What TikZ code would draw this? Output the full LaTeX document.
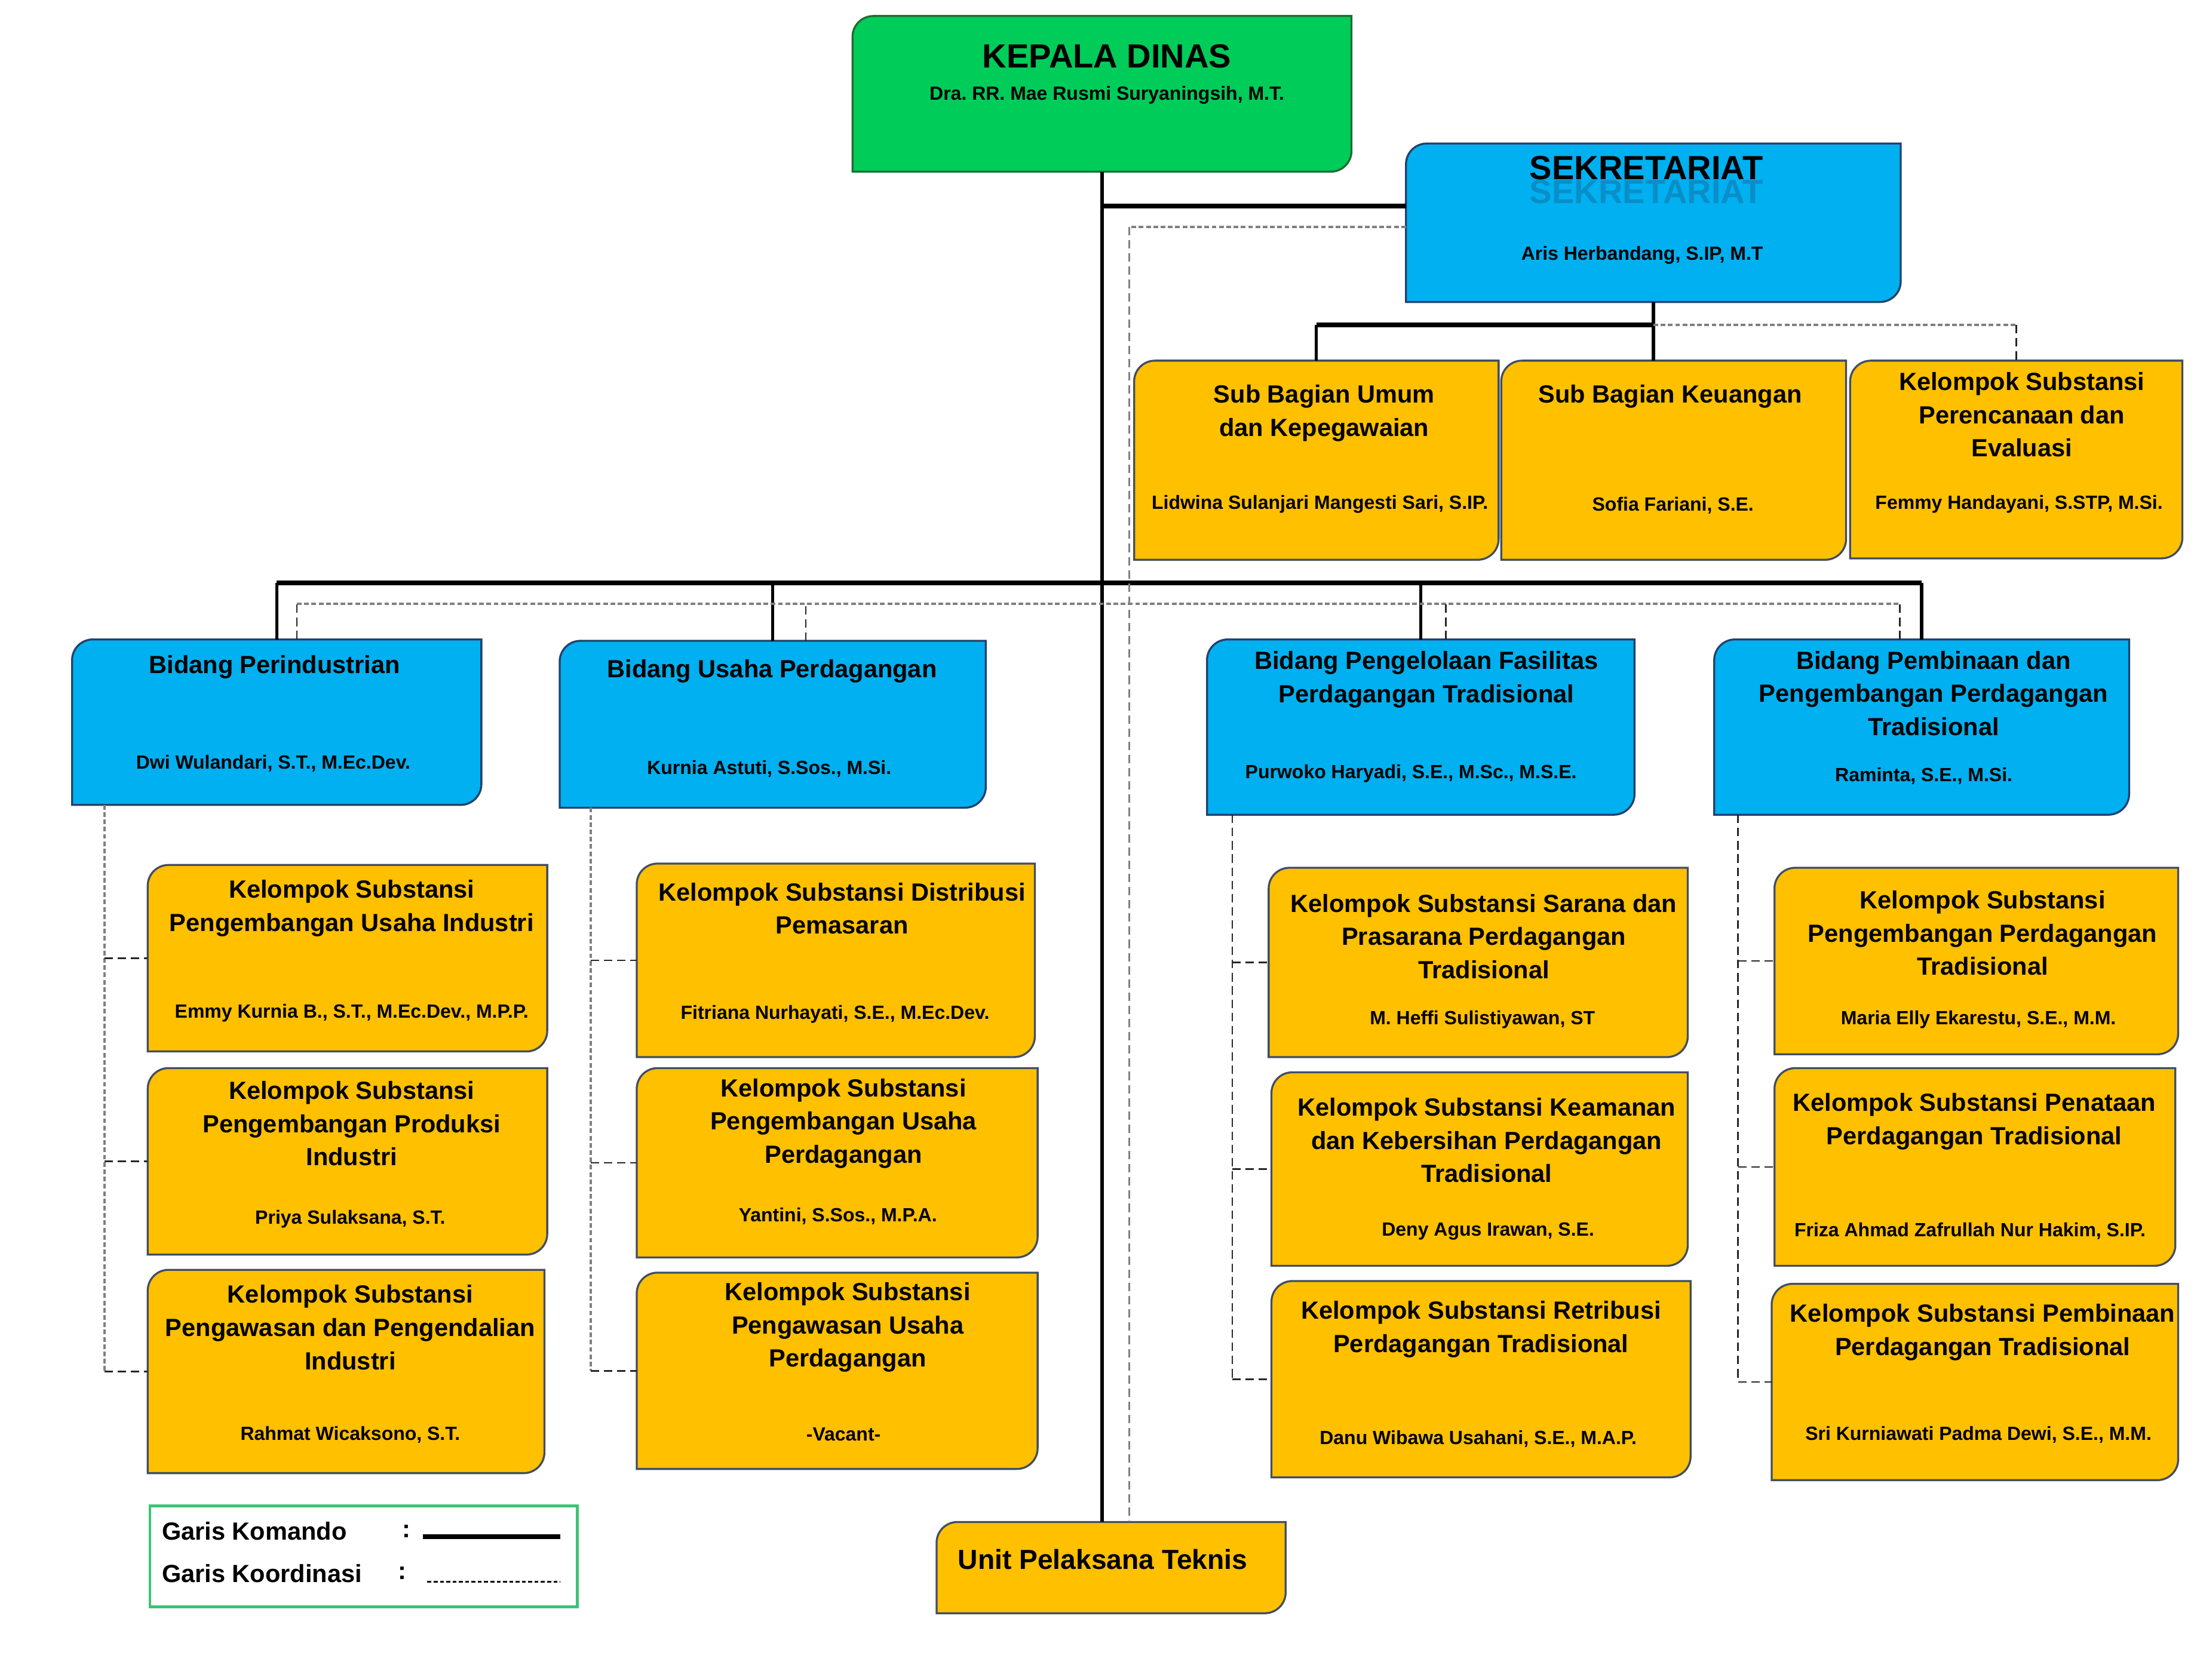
\documentclass[tikz,border=0pt]{standalone}
\usepackage{fontspec}
\setmainfont{Liberation Sans}
\usepackage{tikz}
\usetikzlibrary{fit}
\frenchspacing
\definecolor{hijau}{HTML}{00CC5A}
\definecolor{hijaugaris}{HTML}{1F6B32}
\definecolor{biru}{HTML}{00B0F0}
\definecolor{birugaris}{HTML}{23416B}
\definecolor{kuning}{HTML}{FFC000}
\definecolor{kuninggaris}{HTML}{414D63}
\definecolor{legendagaris}{HTML}{3CC476}
\tikzstyle{komando}=[line width=1.6pt, black]
\tikzstyle{palang}=[line width=2.4pt, black]
\tikzstyle{koord}=[line width=1.2pt, gray, dash pattern=on 2.4pt off 1.3pt]
\tikzstyle{koordtipis}=[line width=0.8pt, black!85, dash pattern=on 4.3pt off 2.4pt]
\tikzstyle{kotakgaris}=[line width=1pt]
\tikzstyle{judul}=[font=\fontsize{12.6}{16.9}\selectfont\bfseries, align=center, inner sep=0pt]
\tikzstyle{nama}=[font=\fontsize{9.7}{12}\selectfont\bfseries, align=center, inner sep=0pt]
\tikzstyle{besar}=[font=\fontsize{17}{20}\selectfont\bfseries, inner sep=0pt]
\newcommand{\sudut}{0.37cm}
\newcommand{\kotak}[7]{%
  \node[fit={(#2,#3) (#4,#5)}, inner sep=0pt] (#1) {};
  \path[kotakgaris, fill=#6, draw=#7] (#1.south west) -- ([yshift=-\sudut]#1.north west)
    arc[start angle=180, end angle=90, radius=\sudut] -- (#1.north east)
    -- ([yshift=\sudut]#1.south east) arc[start angle=0, end angle=-90, radius=\sudut] -- cycle;
}

\begin{document}
\begin{tikzpicture}[x=0.025cm, y=-0.025cm, thick]
    \useasboundingbox (0,0) rectangle (1568,1199);
    \kotak{kadis}{609}{12}{964}{122}{hijau}{hijaugaris}
    \kotak{sekre}{1004}{103}{1356}{215}{biru}{birugaris}
    \kotak{umum}{810}{258}{1069}{399}{kuning}{kuninggaris}
    \kotak{keu}{1072}{258}{1317}{399}{kuning}{kuninggaris}
    \kotak{renc}{1321}{258}{1557}{398}{kuning}{kuninggaris}
    \kotak{ind}{52}{457}{343}{574}{biru}{birugaris}
    \kotak{usaha}{400}{458}{703}{576}{biru}{birugaris}
    \kotak{kelola}{862}{457}{1166}{581}{biru}{birugaris}
    \kotak{bina}{1224}{457}{1519}{581}{biru}{birugaris}
    \kotak{ind1}{106}{618}{390}{750}{kuning}{kuninggaris}
    \kotak{ind2}{106}{763}{390}{895}{kuning}{kuninggaris}
    \kotak{ind3}{106}{907}{388}{1051}{kuning}{kuninggaris}
    \kotak{usaha1}{455}{617}{738}{754}{kuning}{kuninggaris}
    \kotak{usaha2}{455}{763}{740}{897}{kuning}{kuninggaris}
    \kotak{usaha3}{455}{909}{740}{1048}{kuning}{kuninggaris}
    \kotak{kelola1}{906}{620}{1204}{754}{kuning}{kuninggaris}
    \kotak{kelola2}{908}{766}{1204}{903}{kuning}{kuninggaris}
    \kotak{kelola3}{908}{915}{1206}{1054}{kuning}{kuninggaris}
    \kotak{bina1}{1267}{620}{1554}{752}{kuning}{kuninggaris}
    \kotak{bina2}{1267}{763}{1552}{903}{kuning}{kuninggaris}
    \kotak{bina3}{1265}{917}{1554}{1056}{kuning}{kuninggaris}
    \kotak{upt}{669}{1087}{917}{1151}{kuning}{kuninggaris}

    \node[besar] (kadisT) at (790,40) {KEPALA DINAS};
    \node[nama] (kadisN) at (790,68) {Dra. RR. Mae Rusmi Suryaningsih, M.T.};
    \node[besar, text=birugaris!60!biru, opacity=0.5] (sekreB) at (1175,137) {SEKRETARIAT};
    \node[besar] (sekreT) at (1175,120) {SEKRETARIAT};
    \node[nama] (sekreN) at (1172,182) {Aris Herbandang, S.IP, M.T};
    \node[judul] (umumT) at (945,295) {Sub Bagian Umum\\dan Kepegawaian};
    \node[nama] (umumN) at (942,360) {Lidwina Sulanjari Mangesti Sari, S.IP.};
    \node[judul] (keuT) at (1192,283) {Sub Bagian Keuangan};
    \node[nama] (keuN) at (1194,361) {Sofia Fariani, S.E.};
    \node[judul] (rencT) at (1443,296) {Kelompok Substansi\\Perencanaan dan\\Evaluasi};
    \node[nama] (rencN) at (1441,360) {Femmy Handayani, S.STP, M.Si.};

    \node[judul] (indT) at (196,476) {Bidang Perindustrian};
    \node[nama] (indN) at (195,545) {Dwi Wulandari, S.T., M.Ec.Dev.};
    \node[judul] (usahaT) at (551,479) {Bidang Usaha Perdagangan};
    \node[nama] (usahaN) at (549,549) {Kurnia Astuti, S.Sos., M.Si.};
    \node[judul] (kelolaT) at (1018,485) {Bidang Pengelolaan Fasilitas\\Perdagangan Tradisional};
    \node[nama] (kelolaN) at (1007,552) {Purwoko Haryadi, S.E., M.Sc., M.S.E.};
    \node[judul] (binaT) at (1380,495) {Bidang Pembinaan dan\\Pengembangan Perdagangan\\Tradisional};
    \node[nama] (binaN) at (1373,554) {Raminta, S.E., M.Si.};

    \node[judul] (ind1T) at (251,648.5) {Kelompok Substansi\\Pengembangan Usaha Industri};
    \node[nama] (ind1N) at (251,723) {Emmy Kurnia B., S.T., M.Ec.Dev., M.P.P.};
    \node[judul] (ind2T) at (251,802) {Kelompok Substansi\\Pengembangan Produksi\\Industri};
    \node[nama] (ind2N) at (250,870) {Priya Sulaksana, S.T.};
    \node[judul] (ind3T) at (250,947.5) {Kelompok Substansi\\Pengawasan dan Pengendalian\\Industri};
    \node[nama] (ind3N) at (250,1024) {Rahmat Wicaksono, S.T.};
    \node[judul] (usaha1T) at (601,648.5) {Kelompok Substansi Distribusi\\Pemasaran};
    \node[nama] (usaha1N) at (596,724) {Fitriana Nurhayati, S.E., M.Ec.Dev.};
    \node[judul] (usaha2T) at (602,802) {Kelompok Substansi\\Pengembangan Usaha\\Perdagangan};
    \node[nama] (usaha2N) at (598,868) {Yantini, S.Sos., M.P.A.};
    \node[judul] (usaha3T) at (605,947.5) {Kelompok Substansi\\Pengawasan Usaha\\Perdagangan};
    \node[nama] (usaha3N) at (602,1024) {-Vacant-};
    \node[judul] (kelola1T) at (1059,668.5) {Kelompok Substansi Sarana dan\\Prasarana Perdagangan\\Tradisional};
    \node[nama] (kelola1N) at (1058,728) {M. Heffi Sulistiyawan, ST};
    \node[judul] (kelola2T) at (1061,814) {Kelompok Substansi Keamanan\\dan Kebersihan Perdagangan\\Tradisional};
    \node[nama] (kelola2N) at (1062,879) {Deny Agus Irawan, S.E.};
    \node[judul] (kelola3T) at (1057,949) {Kelompok Substansi Retribusi\\Perdagangan Tradisional};
    \node[nama] (kelola3N) at (1055,1027) {Danu Wibawa Usahani, S.E., M.A.P.};
    \node[judul] (bina1T) at (1415,666) {Kelompok Substansi\\Pengembangan Perdagangan\\Tradisional};
    \node[nama] (bina1N) at (1412,728) {Maria Elly Ekarestu, S.E., M.M.};
    \node[judul] (bina2T) at (1409,800.5) {Kelompok Substansi Penataan\\Perdagangan Tradisional};
    \node[nama] (bina2N) at (1406,879) {Friza Ahmad Zafrullah Nur Hakim, S.IP.};
    \node[judul] (bina3T) at (1415,951) {Kelompok Substansi Pembinaan\\Perdagangan Tradisional};
    \node[nama] (bina3N) at (1412,1024) {Sri Kurniawati Padma Dewi, S.E., M.M.};
    \node[judul, font=\fontsize{14}{16}\selectfont\bfseries] (uptT) at (787,1113) {Unit Pelaksana Teknis};

    \coordinate (jsek) at (kadis.south |- 0,147);
    \coordinate (jsub) at (sekre.south |- 0,232);
    \coordinate (jbid) at (kadis.south |- 0,416);
    \draw[komando] (kadis.south) -- (kadis.south |- upt.north);
    \draw[palang] (jsek) -- (jsek -| sekre.west);
    \draw[komando] (sekre.south) -- (jsub) -- (jsub |- keu.north);
    \draw[palang] (jsub) -- (jsub -| umum.north);
    \draw[komando] (jsub -| umum.north) -- (umum.north);
    \draw[koord] (jsub) -- (jsub -| renc.north);
    \draw[koordtipis] (jsub -| renc.north) -- (renc.north);
    \draw[palang] (jbid -| ind.north) -- (jbid -| bina.north);
    \draw[komando] (ind.north) -- (jbid -| ind.north) (usaha.north) -- (jbid -| usaha.north)
        (kelola.north) -- (jbid -| kelola.north) (bina.north) -- (jbid -| bina.north);

    \coordinate (kd) at (806,162);
    \coordinate (kb) at (806,431);
    \coordinate (kind) at ([xshift=0.36cm]ind.north);
    \coordinate (kusaha) at ([xshift=0.59cm]usaha.north);
    \coordinate (kkelola) at ([xshift=0.45cm]kelola.north);
    \coordinate (kbina) at ([xshift=-0.39cm]bina.north);
    \draw[koord] (sekre.west |- kd) -- (kd);
    \draw[koordtipis, gray] (kd) -- (kd |- upt.north);
    \draw[koord] (kb -| kind) -- (kb -| kbina);
    \draw[koordtipis] (kind) -- (kb -| kind) (kusaha) -- (kb -| kusaha)
        (kkelola) -- (kb -| kkelola) (kbina) -- (kb -| kbina);

    \coordinate (tind) at ([xshift=0.575cm]ind.south west);
    \coordinate (tusaha) at ([xshift=0.55cm]usaha.south west);
    \coordinate (tkelola) at ([xshift=0.45cm]kelola.south west);
    \coordinate (tbina) at ([xshift=0.425cm]bina.south west);
    \draw[koord] (tind) -- (tind |- ind3.west);
    \draw[koord] (tusaha) -- (tusaha |- usaha3.west);
    \draw[koordtipis] (tkelola) -- (tkelola |- kelola3.west);
    \draw[koordtipis] (tbina) -- (tbina |- bina3.west);
    \draw[koordtipis] (tind |- ind1.west) -- (ind1.west) (tind |- ind2.west) -- (ind2.west)
        (tind |- ind3.west) -- (ind3.west);
    \draw[koordtipis] (tusaha |- usaha1.west) -- (usaha1.west) (tusaha |- usaha2.west) -- (usaha2.west)
        (tusaha |- usaha3.west) -- (usaha3.west);
    \draw[koordtipis] (tkelola |- kelola1.west) -- (kelola1.west) (tkelola |- kelola2.west) -- (kelola2.west)
        (tkelola |- kelola3.west) -- (kelola3.west);
    \draw[koordtipis] (tbina |- bina1.west) -- (bina1.west) (tbina |- bina2.west) -- (bina2.west)
        (tbina |- bina3.west) -- (bina3.west);

    \node[fit={(107,1075) (412,1147)}, inner sep=0pt, draw=legendagaris, line width=1.3pt] (legenda) {};
    \node[judul, anchor=west] (lkom) at (115,1093) {Garis Komando};
    \node[judul, anchor=west] (lkoo) at (115,1123) {Garis Koordinasi};
    \node[judul] (ttk1) at (290,1093) {:};
    \node[judul] (ttk2) at (287,1123) {:};
    \coordinate (lk1) at (302,1097);
    \coordinate (lk2) at (400,1097);
    \coordinate (ld1) at (305,1129);
    \coordinate (ld2) at (400,1129);
    \draw[palang] (lk1) -- (lk2);
    \draw[line width=1pt, dash pattern=on 2pt off 1.2pt] (ld1) -- (ld2);
\end{tikzpicture}
\end{document}
